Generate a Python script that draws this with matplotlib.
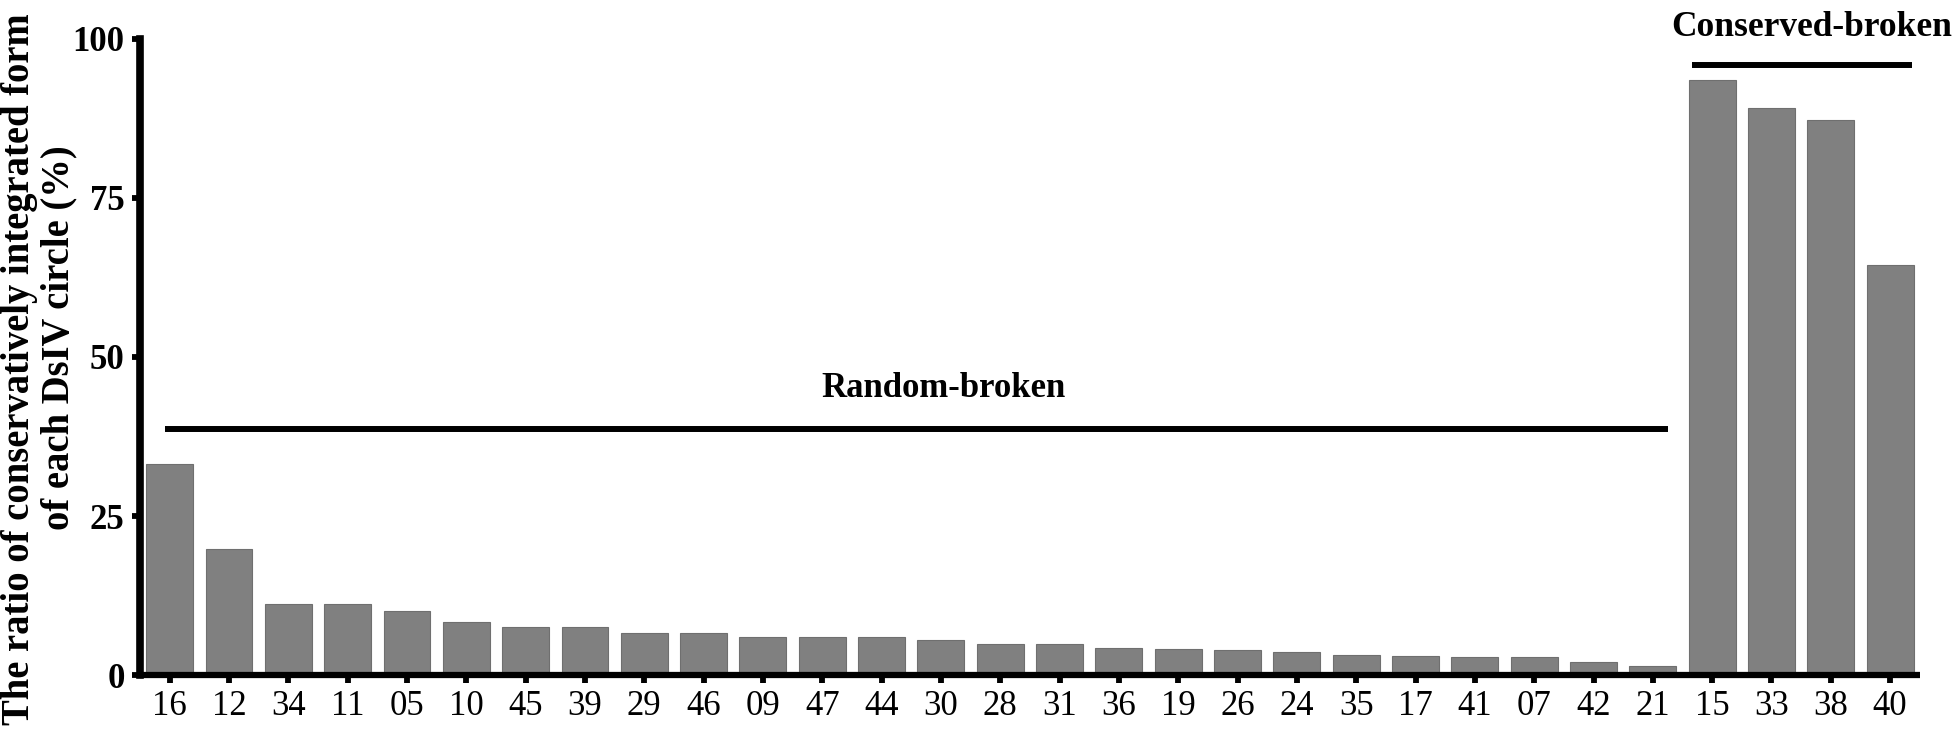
import matplotlib
matplotlib.use("Agg")
import matplotlib.pyplot as plt

plt.rcParams['font.family'] = ['Liberation Serif', 'DejaVu Serif']

categories = ["16", "12", "34", "11", "05", "10", "45", "39", "29", "46",
              "09", "47", "44", "30", "28", "31", "36", "19", "26", "24",
              "35", "17", "41", "07", "42", "21", "15", "33", "38", "40"]
values = [33.2, 19.8, 11.1, 11.1, 10.0, 8.3, 7.6, 7.6, 6.6, 6.6,
          5.9, 5.9, 5.9, 5.5, 4.8, 4.8, 4.3, 4.1, 4.0, 3.6,
          3.2, 3.0, 2.8, 2.8, 2.0, 1.4, 93.5, 89.2, 87.3, 64.4]
yticks = [0, 25, 50, 75, 100]
group_labels = ["Random-broken", "Conserved-broken"]
ylabel_lines = ["The ratio of conservatively integrated form", "of each DsIV circle (%)"]

fig = plt.figure(figsize=(19.55, 7.35), dpi=100)
ax = fig.add_axes([0.0716, 0.0816, 0.982 - 0.0716, 0.947 - 0.0816])

x = list(range(len(categories)))
ax.bar(x, values, width=0.79, color='#808080', edgecolor='#6f6f6f', linewidth=0.8, zorder=2)

ax.set_xlim(-0.5, 29.5)
ax.set_ylim(0, 100)
ax.set_xticks(x)
ax.set_xticklabels(categories, fontsize=25)
ax.set_yticks(yticks)
ax.set_yticklabels([str(v) for v in yticks], fontsize=25, fontweight='bold')

for s in ['top', 'right']:
    ax.spines[s].set_visible(False)
ax.spines['left'].set_linewidth(5.5)
ax.spines['bottom'].set_linewidth(4.5)
ax.spines['left'].set_capstyle('projecting')
ax.spines['bottom'].set_capstyle('butt')
ax.tick_params(axis='x', length=6, width=4.2, pad=5, direction='out')
ax.tick_params(axis='y', length=6, width=4.2, pad=5, direction='out')

# y label as two rotated lines, sized to span the figure height like the reference
t1 = fig.text(0.0100, 0.498, ylabel_lines[0], rotation=90, ha='center', va='center',
              fontsize=24, fontweight='bold')
t2 = fig.text(0.0300, 0.540, ylabel_lines[1], rotation=90, ha='center', va='center',
              fontsize=24, fontweight='bold')
fig.canvas.draw()
r = fig.canvas.get_renderer()
h = t1.get_window_extent(r).height
fs = 24 * 712.0 / h
t1.set_fontsize(fs)
t2.set_fontsize(fs)

# group annotations
ax.plot([-0.07, 25.25], [38.7, 38.7], color='black', lw=4.3, solid_capstyle='butt', clip_on=False, zorder=3)
ax.text(13.05, 45.0, group_labels[0], ha='center', va='center', fontsize=25, fontweight='bold')
ax.plot([25.66, 29.36], [95.9, 95.9], color='black', lw=4.3, solid_capstyle='butt', clip_on=False, zorder=3)
ax.text(27.68, 101.8, group_labels[1], ha='center', va='center', fontsize=25.5, fontweight='bold', clip_on=False)

fig.savefig("out.png", dpi=100, facecolor='white')
